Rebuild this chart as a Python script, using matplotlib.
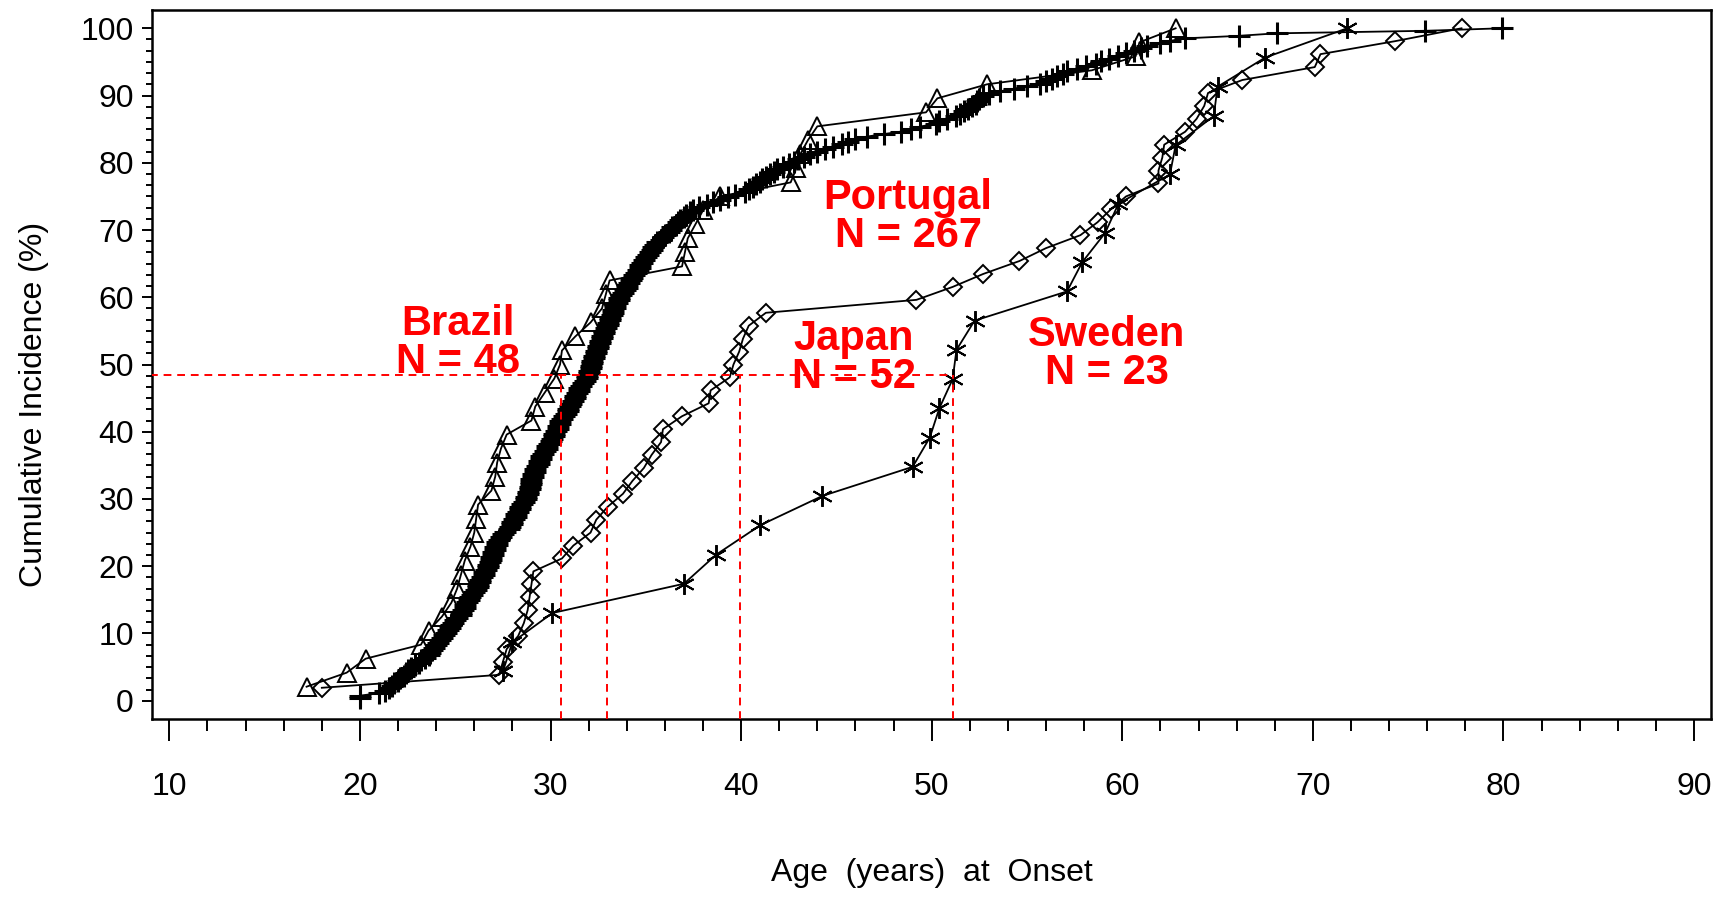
"""
Cumulative incidence of age at onset by country
"""
import matplotlib
matplotlib.use("Agg")
import matplotlib.pyplot as plt
import numpy as np

plt.rcParams["font.family"] = ["Liberation Sans", "DejaVu Sans"]

# ------------------------------------------------------------
# ages at onset (years), one entry per patient
# ------------------------------------------------------------
brazil_age = [17.2, 19.3, 20.3, 23.2, 23.6, 24.3, 24.8, 25.1, 25.3, 25.5,
              25.8, 26.0, 26.1, 26.2, 26.9, 27.1, 27.2, 27.4, 27.7, 29.0,
              29.2, 29.7, 30.2, 30.5, 30.6, 31.3, 32.1, 32.7, 32.9, 33.1,
              36.9, 37.05, 37.2, 37.6, 38.0, 38.9, 42.6, 42.9, 43.1, 43.5,
              44.0, 49.7, 50.3, 52.9, 58.4, 60.7, 60.9, 62.8]

portugal_age = [20.0, 20.0, 21.0, 21.3, 21.5,
                21.7, 21.8, 22.0, 22.1, 22.3, 22.4, 22.5, 22.7,
                22.9, 23.1, 23.2, 23.4, 23.6,
                23.7, 23.8, 23.9, 24.0, 24.1, 24.2, 24.3, 24.4,
                24.5, 24.6, 24.7, 24.8, 24.9, 25.0, 25.1, 25.3,
                25.3, 25.4, 25.5, 25.5, 25.6, 25.7,
                25.8, 25.9, 26.0, 26.1, 26.2,
                26.2, 26.3, 26.3, 26.4, 26.5, 26.5, 26.6, 26.7, 26.7, 26.8, 26.9,
                26.9, 27.0, 27.0, 27.1, 27.1, 27.2, 27.2, 27.3,
                27.4, 27.5, 27.6, 27.8, 27.9,
                28.0, 28.0, 28.1, 28.2, 28.2, 28.3, 28.4, 28.4, 28.5, 28.6, 28.7,
                28.7, 28.8, 28.8, 28.9, 28.9, 29.0, 29.0, 29.0, 29.1, 29.1, 29.2, 29.2, 29.3,
                29.4, 29.4, 29.5, 29.5, 29.6, 29.7, 29.8, 29.8, 29.9, 30.0, 30.1,
                30.2, 30.2, 30.3, 30.4, 30.4, 30.5, 30.5, 30.6,
                30.7, 30.8, 30.9, 30.9, 31.0, 31.1, 31.2, 31.3,
                31.3, 31.4, 31.5, 31.5, 31.6, 31.7, 31.8, 31.9,
                31.9, 32.0, 32.0, 32.1, 32.1,
                32.2, 32.2, 32.3, 32.3, 32.4, 32.4, 32.5, 32.5, 32.6, 32.6, 32.7,
                32.7, 32.8, 32.8, 32.9, 33.0, 33.0, 33.1, 33.1, 33.2, 33.3,
                33.3, 33.4, 33.4, 33.5, 33.6, 33.6, 33.7, 33.8,
                33.9, 34.0, 34.0, 34.1, 34.2, 34.3,
                34.4, 34.5, 34.6, 34.7, 34.7, 34.8, 34.9, 35.0,
                35.1, 35.2, 35.3, 35.4, 35.5, 35.6, 35.8, 35.9, 36.0, 36.2,
                36.3, 36.4, 36.6, 36.7, 36.8, 37.0, 37.1, 37.3,
                37.5, 37.8, 38.2,
                38.5, 38.9, 39.3, 39.7, 40.2,
                40.4, 40.6, 40.8, 41.0, 41.1, 41.3, 41.5, 41.7,
                41.9, 42.2, 42.5, 42.8, 43.0, 43.3,
                43.6, 44.0, 44.4, 44.8, 45.3,
                45.6, 46.0, 46.6,
                47.5, 48.4, 48.9,
                49.4, 50.2,
                50.4, 50.8, 51.3,
                51.5, 51.7, 51.9, 52.1, 52.3,
                52.4, 52.5, 52.7, 53.0, 53.6,
                54.3, 55.0, 55.7,
                56.0, 56.3, 56.6, 56.9, 57.1,
                57.6, 58.1, 58.6,
                58.9, 59.3, 59.8,
                60.2, 60.6, 61.0,
                61.3, 62.0, 62.5,
                63.3, 66.1, 68.1, 75.9, 79.9]

japan_age = [18.0, 27.3, 27.5, 27.7, 28.3, 28.6, 28.8, 28.9, 29.0, 29.1,
             30.6, 31.2, 32.1, 32.4, 33.0, 33.8, 34.3, 34.9, 35.3, 35.8,
             35.9, 36.9, 38.3, 38.4, 39.4, 39.6, 39.9, 40.1, 40.4, 41.3,
             49.2, 51.1, 52.7, 54.6, 56.0, 57.8, 58.7, 59.4, 60.2, 61.9,
             61.9, 62.1, 62.2, 63.3, 63.9, 64.3, 64.5, 66.3, 70.1, 70.4,
             74.3, 77.8]

sweden_age = [27.5, 28.0, 30.1, 37.0, 38.7, 41.0, 44.25, 49.0, 49.9, 50.4,
              51.1, 51.3, 52.25, 57.1, 57.9, 59.1, 59.8, 62.5, 62.8, 64.8,
              65.0, 67.5, 71.8]

# median reference (red dashed)
median_level = 48.4
median_ages = [30.55, 32.95, 39.94, 51.14]

labels = ["Brazil\nN = 48", "Portugal\nN = 267", "Japan\nN = 52", "Sweden\nN = 23"]
label_x = [25.15, 48.76, 45.92, 59.2]
label_y = [53.2, 71.9, 51.0, 51.6]


def cum_pct(ages):
    a = np.sort(np.asarray(ages, dtype=float))
    return a, np.arange(1, len(a) + 1) / len(a) * 100


fig = plt.figure(figsize=(17.13, 9.0), dpi=100)
ax = fig.add_axes([152 / 1713, 181 / 900, 1559 / 1713, 709 / 900])

style = dict(color="black", linewidth=1.3, markerfacecolor="none",
             markeredgecolor="black")

x, y = cum_pct(brazil_age)
ax.plot(x, y, marker="^", markersize=12.5, markeredgewidth=1.4, **style)
x, y = cum_pct(portugal_age)
ax.plot(x, y, marker="+", markersize=16, markeredgewidth=2.2, **style)
x, y = cum_pct(japan_age)
ax.plot(x, y, marker="D", markersize=9, markeredgewidth=1.4, **style)
x, y = cum_pct(sweden_age)
ax.plot(x, y, marker=(6, 2, 0), markersize=15, markeredgewidth=1.4, **style)

# median guides
ax.plot([9.0, max(median_ages)], [median_level, median_level],
        color="red", linestyle=(0, (4, 3)), linewidth=1.4, zorder=5)
for m in median_ages:
    ax.plot([m, m], [-2.72, median_level], color="red",
            linestyle=(0, (4, 3)), linewidth=1.4, zorder=5)

for txt, tx, ty in zip(labels, label_x, label_y):
    ax.text(tx, ty, txt, color="red", fontsize=30, fontweight="bold",
            ha="center", va="center", linespacing=0.95, zorder=6)

ax.set_xlim(9.09, 90.89)
ax.set_ylim(-2.72, 102.72)
ax.set_xticks(np.arange(10, 91, 10))
ax.set_xticks(np.arange(10, 91, 2), minor=True)
ax.set_yticks(np.arange(0, 101, 10))
ax.set_yticks(np.arange(0, 101, 10 / 6), minor=True)

ax.tick_params(axis="x", which="major", length=16, width=1.4, pad=22, labelsize=23)
ax.tick_params(axis="x", which="minor", length=8.5, width=1.4)
ax.tick_params(axis="y", which="major", length=7, width=1.4, pad=6, labelsize=23)
ax.tick_params(axis="y", which="minor", length=4.5, width=1.4)
for sp in ax.spines.values():
    sp.set_linewidth(1.8)

ax.set_xlabel("Age  (years)  at  Onset", fontsize=23)
ax.xaxis.set_label_coords(0.5, -0.196)
ax.set_ylabel("Cumulative Incidence (%)", fontsize=23)
ax.yaxis.set_label_coords(-0.066, 0.444)

fig.savefig("out.png", dpi=100)
plt.close(fig)
